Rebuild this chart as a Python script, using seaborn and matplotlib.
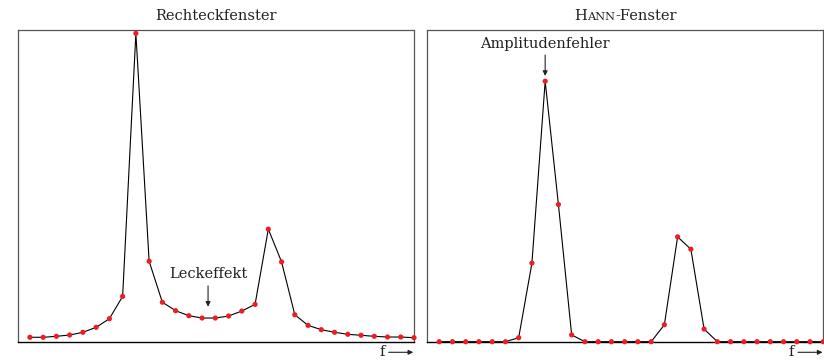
import matplotlib
matplotlib.use("Agg")
import matplotlib.pyplot as plt
import seaborn as sns
import numpy as np
import pandas as pd

sns.set_theme(style="white")
plt.rcParams['font.family'] = ['DejaVu Serif']

# ---- data (peak of rectangular window = 100) ----
bins = list(range(30))
rect_vals = [1.43, 1.43, 1.75, 2.17, 3.05, 4.67, 7.46, 14.7, 100.0, 26.1,
             12.8, 10.05, 8.43, 7.68, 7.68, 8.33, 9.95, 12.1, 36.5, 25.9,
             8.75, 5.3, 3.9, 3.05, 2.4, 2.08, 1.75, 1.52, 1.52, 1.3]
hann_vals = [0, 0, 0, 0, 0, 0, 1.3, 25.5, 84.5, 44.5,
             2.2, 0, 0, 0, 0, 0, 0, 5.5, 34.0, 30.0,
             4.1, 0, 0, 0, 0, 0, 0, 0, 0, 0]
titles = ["Rechteckfenster", "HANN-Fenster"]
leck_label = "Leckeffekt"
amp_label = "Amplitudenfehler"
f_label = "f"

df_rect = pd.DataFrame({"bin": bins, "amp": rect_vals})
df_hann = pd.DataFrame({"bin": bins, "amp": hann_vals})

W, H = 824, 361
fig = plt.figure(figsize=(W / 100, H / 100), dpi=100)
ax1 = fig.add_axes([18 / W, (H - 341.7) / H, 396 / W, 311.7 / H])
ax2 = fig.add_axes([427.3 / W, (H - 341.7) / H, 396 / W, 311.7 / H])

RED = "#ee1c24"
FS = 10.5
TXT = "#222222"

for ax, df in [(ax1, df_rect), (ax2, df_hann)]:
    sns.lineplot(data=df, x="bin", y="amp", ax=ax, color="black", lw=0.8)
    sns.scatterplot(data=df, x="bin", y="amp", ax=ax, color=RED, s=14,
                    edgecolor="none", zorder=5, clip_on=False)
    ax.set_xlim(-0.9, 29)
    ax.set_ylim(0, 101.1)
    ax.set_xticks([])
    ax.set_yticks([])
    ax.set_xlabel("")
    ax.set_ylabel("")
    for name, sp in ax.spines.items():
        sp.set_visible(True)
        sp.set_color("#555555")
        sp.set_linewidth(0.9)
    ax.spines["bottom"].set_color("black")
    ax.spines["bottom"].set_linewidth(1.0)
    # f --> label
    ax.text(0.919, -0.034, f_label, transform=ax.transAxes, ha="center",
            va="center", fontsize=FS, color=TXT)
    ax.annotate("", xy=(0.998, -0.034), xytext=(0.936, -0.034),
                xycoords="axes fraction", textcoords="axes fraction",
                annotation_clip=False,
                arrowprops=dict(arrowstyle="-|>", lw=0.8, color=TXT,
                                mutation_scale=7, shrinkA=0, shrinkB=0))

title_y = 1 + (30 - 19.5) / 311.7
ax1.text(0.5, title_y, titles[0], transform=ax1.transAxes, ha="center",
         va="baseline", fontsize=FS, color=TXT)

# HANN in small caps: H full size, ANN reduced size
fig.canvas.draw()
renderer = fig.canvas.get_renderer()
parts = [("H", FS), ("ANN", FS * 0.78), ("-Fenster", FS)]
tmp = [ax2.text(0, 0, p, fontsize=s) for p, s in parts]
widths = [t.get_window_extent(renderer).width for t in tmp]
for t in tmp:
    t.remove()
ax_w_px = ax2.get_window_extent(renderer).width
total = sum(widths)
x = 0.5 - total / 2 / ax_w_px
for (p, s), w in zip(parts, widths):
    ax2.text(x, title_y, p, transform=ax2.transAxes, ha="left",
             va="baseline", fontsize=s, color=TXT)
    x += w / ax_w_px

# annotations
ax1.text(13.45, 21.9, leck_label, ha="center", va="center", fontsize=FS,
         color=TXT)
ax1.annotate("", xy=(13.45, 11.35), xytext=(13.45, 18.1),
             arrowprops=dict(arrowstyle="-|>", lw=0.8, color=TXT,
                             mutation_scale=7, shrinkA=0, shrinkB=0))
ax2.text(8, 96.4, amp_label, ha="center", va="center", fontsize=FS,
         color=TXT)
ax2.annotate("", xy=(8, 86.2), xytext=(8, 93.0),
             arrowprops=dict(arrowstyle="-|>", lw=0.8, color=TXT,
                             mutation_scale=7, shrinkA=0, shrinkB=0))

fig.savefig("out.png", dpi=100)
